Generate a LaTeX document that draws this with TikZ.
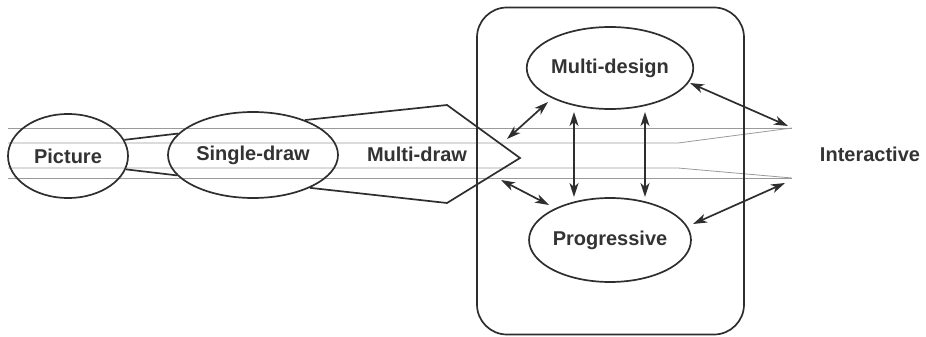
\documentclass[tikz,border=0pt]{standalone}
\usepackage{fontspec}
\setmainfont{Liberation Sans}
\usetikzlibrary{arrows.meta,shapes.geometric}
\definecolor{inkc}{HTML}{2E2E2E}
\definecolor{guidec}{HTML}{9A9A9A}
\definecolor{txtc}{HTML}{333333}
\begin{document}
\begin{tikzpicture}[x=1pt,y=-1pt,
  ink/.style={draw=inkc, line width=1.7pt},
  lbl/.style={font=\bfseries\fontsize{20}{24}\selectfont, text=txtc, inner sep=0pt},
  oval/.style={ellipse, ink, lbl},
  guide/.style={draw=guidec, line width=0.8pt},
  dbl/.style={ink, {Stealth[length=14pt,width=9pt,inset=4pt]}-{Stealth[length=14pt,width=9pt,inset=4pt]}},
]
\useasboundingbox (0,0) rectangle (926,337);

% guide lines
\coordinate (ct) at (792,128);
\coordinate (cb) at (792,178);
\draw[guide] (8,128) -- (ct);
\draw[guide] (8,143) -- (678,143) -- (ct);
\draw[guide] (8,168) -- (678,168) -- (cb);
\draw[guide] (8,178) -- (cb);

% rounded box
\node[ink, rounded corners=30pt, minimum width=267pt, minimum height=327pt, inner sep=0pt] (box) at (610.5,171) {};

% left chain
\node[oval, minimum width=120pt, minimum height=84pt] (pic) at (68,156) {Picture};
\node[oval, minimum width=170pt, minimum height=86pt] (sd) at (253,155) {Single-draw};
\draw[ink] (pic.16) -- (sd.164.5);
\draw[ink] (pic.-13) -- (sd.195);

% multi-draw pentagon
\coordinate (mdtr) at (447,105);
\coordinate (mdtip) at (520,158);
\coordinate (mdbr) at (447,203);
\draw[ink, line join=miter] (sd.34) -- (mdtr) -- (mdtip) -- (mdbr) -- (sd.-30);
\node[lbl] (mdr) at (417,154) {Multi-draw};

% inner ellipses
\node[oval, minimum width=150pt, minimum height=82pt] (mdes) at (610,68) {Multi-design};
\node[oval, minimum width=154pt, minimum height=84pt] (prog) at (610,240) {Progressive};

% vertical arrows
\draw[dbl] (574,112) -- (574,197);
\draw[dbl] (645,112) -- (645,197);

% left diagonal arrows
\coordinate (a1) at (507,139);
\coordinate (a2) at (548,102);
\coordinate (b1) at (501,180);
\coordinate (b2) at (549,205);
\draw[dbl] (a1) -- (a2);
\draw[dbl] (b1) -- (b2);

% right arrows
\coordinate (c1) at (690,83);
\coordinate (c2) at (788,126);
\coordinate (d1) at (693,224);
\coordinate (d2) at (785,183);
\draw[dbl] (c1) -- (c2);
\draw[dbl] (d1) -- (d2);

\node[lbl] (inter) at (870,154) {Interactive};
\end{tikzpicture}
\end{document}
